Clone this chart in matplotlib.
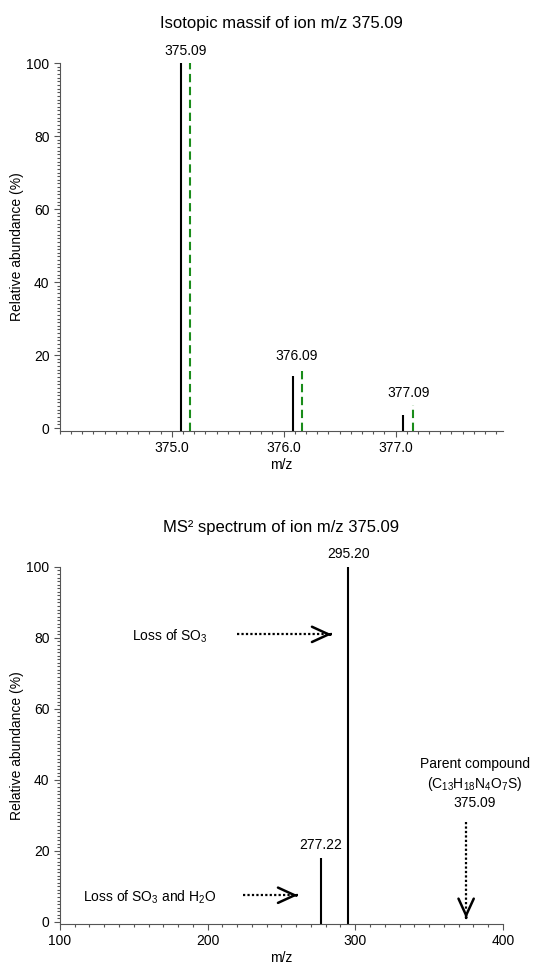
import matplotlib
matplotlib.use('Agg')
import matplotlib.pyplot as plt
from matplotlib.ticker import MultipleLocator, FixedLocator, FormatStrFormatter

plt.rcParams['font.family'] = ['Liberation Sans', 'DejaVu Sans']
plt.rcParams['mathtext.fontset'] = 'custom'
plt.rcParams['mathtext.rm'] = 'Liberation Sans'

# Isotopic massif: measured (black) and theoretical (green dashed)
iso_mz = [375.08, 376.08, 377.07]
iso_int = [100, 14.2, 3.6]
iso_theo_mz = [375.16, 376.16, 377.16]
iso_theo_int = [100, 16.4, 6.3]
iso_labels = ['375.09', '376.09', '377.09']

# MS2 spectrum
ms2_mz = [276.8, 295.2]
ms2_int = [18.0, 100]
ms2_labels = ['277.22', '295.20']

axis_col = '#555555'

fig = plt.figure(figsize=(5.35, 9.65), dpi=100)

def style_axes(ax):
    for s in ['top', 'right']:
        ax.spines[s].set_visible(False)
    for s in ['left', 'bottom']:
        ax.spines[s].set_color(axis_col)
        ax.spines[s].set_linewidth(0.8)
    ax.tick_params(which='both', direction='out', color=axis_col, labelsize=10, width=0.8)
    ax.tick_params(which='major', length=4)
    ax.tick_params(which='minor', length=2.5)
    ax.yaxis.set_major_locator(MultipleLocator(20))
    ax.yaxis.set_minor_locator(MultipleLocator(1))
    ax.set_ylabel('Relative abundance (%)', fontsize=10)
    ax.yaxis.set_label_coords(-0.08, 0.5)
    ax.set_xlabel('m/z', fontsize=10, labelpad=2)

# ---- top panel ----
ax1 = fig.add_axes([0.112, 0.5534, 0.828, 0.3813])
y0 = -0.8
ax1.vlines(iso_mz, y0, iso_int, color='black', lw=1.5)
ax1.vlines(iso_theo_mz, y0, iso_theo_int, color='#1a8c1a', lw=1.5,
           linestyles=(0, (4.0, 2.2)))
for x1, x2, h, lab in zip(iso_mz, iso_theo_mz, iso_theo_int, iso_labels):
    ax1.text((x1 + x2) / 2, h + 1.5, lab, ha='center', va='bottom', fontsize=10)
ax1.set_xlim(374.0, 377.96)
ax1.set_ylim(y0, 100)
ax1.xaxis.set_major_locator(FixedLocator([375.0, 376.0, 377.0]))
ax1.xaxis.set_major_formatter(FormatStrFormatter('%.1f'))
ax1.xaxis.set_minor_locator(MultipleLocator(0.1))
style_axes(ax1)
ax1.set_title('Isotopic massif of ion m/z 375.09', fontsize=12, pad=25)

# ---- bottom panel ----
ax2 = fig.add_axes([0.112, 0.0425, 0.828, 0.370])
y0b = -0.6
ax2.vlines(ms2_mz, y0b, ms2_int, color='black', lw=1.5)
for x, h, lab in zip(ms2_mz, ms2_int, ms2_labels):
    ax2.text(x, h + 1.8, lab, ha='center', va='bottom', fontsize=10)
ax2.set_xlim(100, 400)
ax2.set_ylim(y0b, 100)
ax2.xaxis.set_major_locator(MultipleLocator(100))
ax2.xaxis.set_minor_locator(MultipleLocator(10))
style_axes(ax2)
ax2.set_title('MS² spectrum of ion m/z 375.09', fontsize=12, pad=25)

# annotations: (text, text left position, arrow start, arrow end)
notes = [
    (r'Loss of $\mathregular{SO_3}$', (149, 80.5), (220, 81), (284, 81)),
    (r'Loss of $\mathregular{SO_3}$ and $\mathregular{H_2O}$', (115.5, 7), (224, 7.5), (261, 7.5)),
]
for txt, tpos, a0, a1 in notes:
    ax2.text(tpos[0], tpos[1], txt, ha='left', va='center', fontsize=10)
    ax2.plot([a0[0], a1[0]], [a0[1], a1[1]], color='black', lw=1.6, ls=(0, (1, 1)))
    ax2.annotate('', xy=a1, xytext=(a1[0] - 1, a1[1]),
                 arrowprops=dict(arrowstyle='->,head_length=1.2,head_width=0.55',
                                 color='black', lw=1.8))

parent_x = 375.09
ax2.text(381, 39, 'Parent compound\n' +
         r'($\mathregular{C_{13}H_{18}N_4O_7S}$)' + '\n375.09',
         ha='center', va='center', fontsize=10, linespacing=1.3)
ax2.plot([parent_x, parent_x], [28.2, 3], color='black', lw=1.6, ls=(0, (1, 1)))
ax2.annotate('', xy=(parent_x, 1.0), xytext=(parent_x, 2.0),
             arrowprops=dict(arrowstyle='->,head_length=1.2,head_width=0.55',
                             color='black', lw=1.8))

plt.savefig('out.png', dpi=100)
